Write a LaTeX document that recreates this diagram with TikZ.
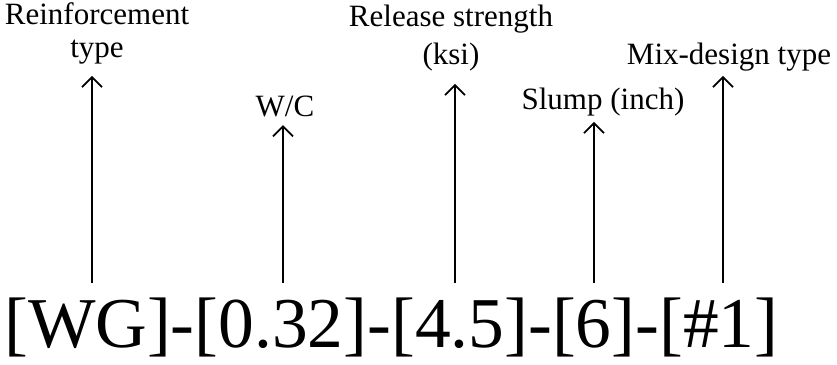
\documentclass[tikz,border=0pt]{standalone}
\usepackage{fontspec}
\setmainfont{Liberation Serif}
\usetikzlibrary{arrows.meta,positioning}

\begin{document}
\begin{tikzpicture}[x=1pt,y=1pt,
	lbl/.style={font=\fontsize{31}{33}\selectfont, align=center, anchor=base, inner sep=#1},
	pointer/.style={line width=1.8pt, -{Straight Barb[length=10pt,width=20pt]}}]
	\useasboundingbox (0,0) rectangle (837,364);
	\node[anchor=base west, inner sep=0pt, font=\fontsize{71.5}{80}\selectfont] (code) at (4,17) {[WG]-[0.32]-[4.5]-[6]-[\#1]};
	% feet of the arrows, just above the code
	\coordinate (fReinf) at (92,81);
	\coordinate (fWC) at (283,81);
	\coordinate (fRel) at (455,81);
	\coordinate (fSlump) at (594,81);
	\coordinate (fMix) at (723,81);
	% labels
	\node[lbl=11pt] (reinf) at (97,306) {Reinforcement\\type};
	\node[lbl=7.5pt] (wc) at (285,247) {W/C};
	\node[lbl=12pt] (rel) at (451,299) {Release strength\\[5pt](ksi)};
	\node[lbl=5pt] (slump) at (603,254) {Slump (inch)};
	\node[lbl=4pt] (mix) at (729,299) {Mix-design type};
	% arrows
	\draw[pointer] (fReinf) -- (fReinf |- reinf.south);
	\draw[pointer] (fWC) -- (fWC |- wc.south);
	\draw[pointer] (fRel) -- (fRel |- rel.south);
	\draw[pointer] (fSlump) -- (fSlump |- slump.south);
	\draw[pointer] (fMix) -- (fMix |- mix.south);
\end{tikzpicture}
\end{document}
